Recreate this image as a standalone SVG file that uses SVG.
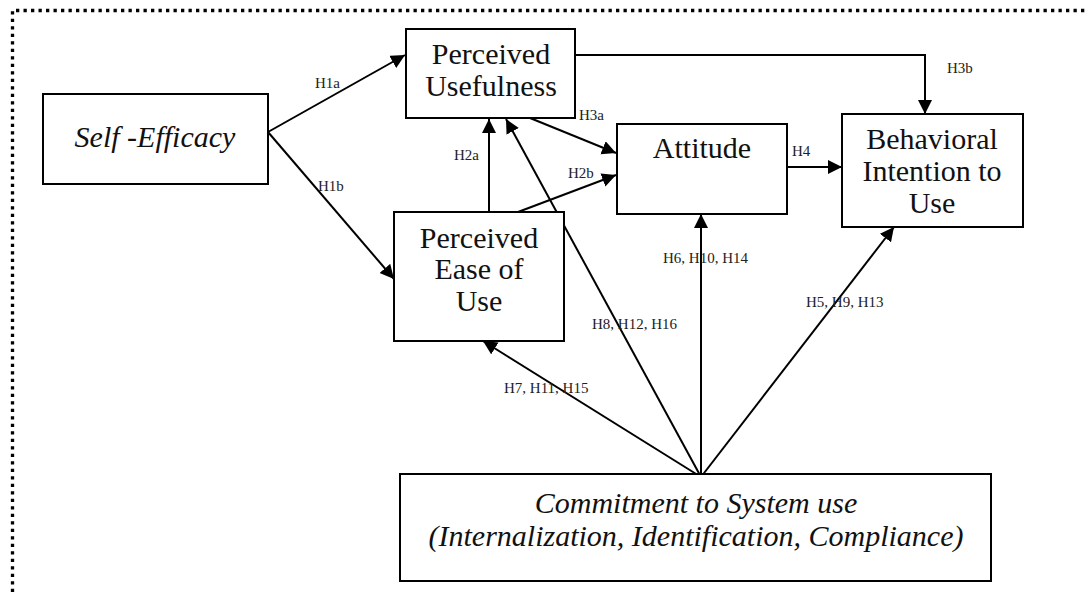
<svg xmlns="http://www.w3.org/2000/svg" width="1087" height="592" viewBox="0 0 1087 592">
<style>
.box{fill:#fff;stroke:#000;stroke-width:2}
.t{font-family:"Liberation Serif","Times New Roman",serif;font-size:30px;fill:#111;text-anchor:middle}
.i{font-style:italic}
.lbl{font-family:"Liberation Serif","Times New Roman",serif;font-size:15px;fill:#222}
.c{fill:none;stroke:#000;stroke-width:2}
.border{fill:none;stroke:#000;stroke-width:3.3;stroke-dasharray:3.3 4.2}
</style>
<defs>
<marker id="ah" markerUnits="userSpaceOnUse" markerWidth="15" markerHeight="15" refX="14" refY="7" orient="auto">
<path d="M0,0 L14,7 L0,14 z" fill="#000"/>
</marker>
</defs>
<rect width="1087" height="592" fill="#fff"/>
<path class="border" d="M12.5,592 V10.5 H1090"/>

<g id="connectors">
<line class="c" x1="268" y1="132" x2="405" y2="55" marker-end="url(#ah)"/>
<line class="c" x1="268" y1="132" x2="394" y2="279" marker-end="url(#ah)"/>
<line class="c" x1="489" y1="212" x2="489" y2="119" marker-end="url(#ah)"/>
<line class="c" x1="518" y1="212" x2="616" y2="175" marker-end="url(#ah)"/>
<line class="c" x1="530" y1="118" x2="616" y2="153" marker-end="url(#ah)"/>
<polyline class="c" points="576,55 925,55 925,114" marker-end="url(#ah)"/>
<line class="c" x1="788" y1="167" x2="842" y2="167" marker-end="url(#ah)"/>
<line class="c" x1="701" y1="477" x2="701" y2="214" marker-end="url(#ah)"/>
<line class="c" x1="701" y1="477" x2="506" y2="119" marker-end="url(#ah)"/>
<line class="c" x1="701" y1="477" x2="894" y2="227" marker-end="url(#ah)"/>
<line class="c" x1="701" y1="477" x2="483" y2="341" marker-end="url(#ah)"/>
<text class="lbl" x="315" y="88">H1a</text>
<text class="lbl" x="318" y="191">H1b</text>
<text class="lbl" x="454" y="160">H2a</text>
<text class="lbl" x="568" y="178">H2b</text>
<text class="lbl" x="579" y="120">H3a</text>
<text class="lbl" x="947" y="73">H3b</text>
<text class="lbl" x="792" y="156">H4</text>
<text class="lbl" x="663" y="263">H6, H10, H14</text>
<text class="lbl" x="592" y="329">H8, H12, H16</text>
<text class="lbl" x="806" y="307">H5, H9, H13</text>
<text class="lbl" x="504" y="393">H7, H11, H15</text>
</g>

<g id="self-efficacy">
<rect class="box" x="43" y="94" width="225" height="90"/>
<text class="t i" x="155" y="147">Self -Efficacy</text>
</g>
<g id="perceived-usefulness">
<rect class="box" x="406" y="29" width="169" height="89"/>
<text class="t" x="491" y="64">Perceived</text>
<text class="t" x="491" y="96">Usefulness</text>
</g>
<g id="attitude">
<rect class="box" x="617" y="124" width="170" height="90"/>
<text class="t" x="702" y="158">Attitude</text>
</g>
<g id="behavioral-intention">
<rect class="box" x="842" y="114" width="181" height="113"/>
<text class="t" x="932" y="149">Behavioral</text>
<text class="t" x="932" y="181">Intention to</text>
<text class="t" x="932" y="213">Use</text>
</g>
<g id="perceived-ease">
<rect class="box" x="394" y="212" width="170" height="129"/>
<text class="t" x="479" y="248">Perceived</text>
<text class="t" x="479" y="279">Ease of</text>
<text class="t" x="479" y="311">Use</text>
</g>
<g id="commitment">
<rect class="box" x="400" y="474" width="591" height="107"/>
<text class="t i" x="696" y="513">Commitment to System use</text>
<text class="t i" x="696" y="546">(Internalization, Identification, Compliance)</text>
</g>
</svg>
